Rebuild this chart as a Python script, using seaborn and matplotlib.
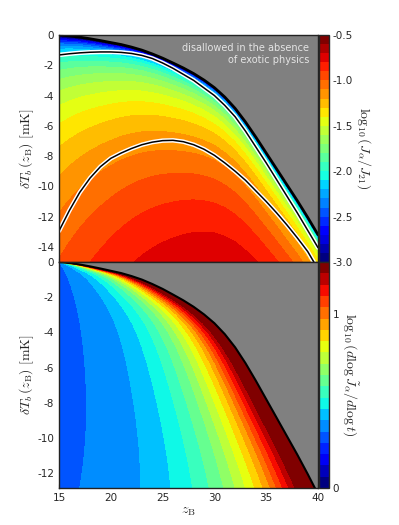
import numpy as np
import matplotlib
matplotlib.use('Agg')
import matplotlib.pyplot as plt
from matplotlib.colors import Normalize
import seaborn as sns

# Limite sem fisica exotica
z_lim = np.arange(15, 41)
dT_lim = [0.0, -0.06, -0.14, -0.25, -0.37, -0.5, -0.63, -0.8, -1.0, -1.25,
          -1.53, -1.85, -2.18, -2.55, -2.98, -3.48, -4.1, -4.85, -5.75, -6.75,
          -7.8, -8.85, -9.9, -10.95, -12.05, -13.2]

# Curvas branco/preto do painel de cima
z_up = np.arange(15, 41)
dT_up = [-1.32, -1.24, -1.18, -1.14, -1.12, -1.12, -1.15, -1.22, -1.35, -1.55,
         -1.85, -2.2, -2.6, -3.0, -3.5, -4.0, -4.65, -5.4, -6.35, -7.4,
         -8.45, -9.55, -10.65, -11.75, -12.9, -14.05]
z_low = [15, 16, 17, 18, 19, 20, 21, 22, 23, 24, 25, 26, 27, 28, 29, 30,
         31, 32, 33, 34, 35, 36, 37, 38, 39, 39.6]
dT_low = [-12.95, -11.6, -10.4, -9.45, -8.7, -8.15, -7.8, -7.5, -7.25, -7.08,
          -6.98, -6.96, -7.05, -7.25, -7.55, -7.95, -8.45, -9.0, -9.6, -10.3,
          -11.0, -11.75, -12.55, -13.4, -14.3, -15.0]

# Bordas das faixas de cor na base do painel de baixo (dT = -12.85)
c_borda = [0.325, 0.39, 0.455, 0.52, 0.585, 0.65, 0.715, 0.78, 0.845, 0.91,
           0.975, 1.04, 1.105, 1.17, 1.235, 1.3]
z_borda = [17.0, 22.9, 25.8, 27.9, 29.5, 30.9, 32.0, 33.0, 33.9, 34.7,
           35.4, 36.0, 36.6, 37.2, 37.8, 38.3]

# Niveis e ticks das barras de cor
lev_J = np.linspace(-3.0, -0.5, 26)
lev_dJ = np.linspace(0.0, 1.3, 21)
ticks_J = [-3.0, -2.5, -2.0, -1.5, -1.0, -0.5]
ticks_dJ = [0, 1]

# Parametros do modelo (ajustados a olho)
A0, nA = 148.0, 1.35
gama_topo, gama_base = 1.0, 1.45

sns.set_style('ticks')
plt.rcParams['font.family'] = ['DejaVu Sans']
plt.rcParams['mathtext.fontset'] = 'cm'
plt.rcParams['axes.unicode_minus'] = False
plt.rcParams['xtick.direction'] = 'in'
plt.rcParams['ytick.direction'] = 'in'

zz = np.linspace(15, 40, 600)
Tb = np.interp(zz, z_lim, dT_lim)

# Painel de cima: log10(J_a/J_21)
Z1, T1 = np.meshgrid(zz, np.linspace(-15, 0, 500))
d1 = Tb[None, :] - T1
A = A0 * ((1 + Z1) / 16.0) ** (-nA)
c1 = np.log10(np.clip(d1, 1e-9, None) / A)
c1 = np.ma.masked_where(d1 <= 0, np.clip(c1, -2.999, -0.501))

# Painel de baixo: log10(dlog J / dlog t)
y_base = -12.85
Z2, T2 = np.meshgrid(zz, np.linspace(y_base, 0, 500))
zb = np.interp(T2, dT_lim[::-1], z_lim[::-1])
zb0 = np.interp(y_base, dT_lim[::-1], z_lim[::-1])
L0 = zb0 - 15
gama = gama_topo + (gama_base - gama_topo) * (T2 / y_base)
L = L0 * (np.clip(zb - 15, 1e-3, None) / L0) ** gama
w = (zb - Z2) / L
w_b = (zb0 - np.array(z_borda)) / L0
wp = np.concatenate([[0.0], w_b[::-1], [1.0, 2.0]])
cp = np.concatenate([[1.36], np.array(c_borda)[::-1], [0.29, 0.262]])
c2 = np.interp(w, wp, cp)
c2 = np.ma.masked_where(Z2 > zb, np.clip(c2, 0.262, 1.299))

fig = plt.figure(figsize=(3.99, 5.25), dpi=100)
ax1 = fig.add_axes([59/399, 1-262/525, 259/399, 227/525])
ax2 = fig.add_axes([59/399, 1-488/525, 259/399, 226/525])
cax1 = fig.add_axes([318.5/399, 1-262/525, 10/399, 227/525])
cax2 = fig.add_axes([318.5/399, 1-488/525, 10/399, 226/525])

cinza = '#808080'
for ax in (ax1, ax2):
    ax.set_facecolor(cinza)

passo1 = lev_J[1] - lev_J[0]
norm1 = Normalize(lev_J[0] + passo1/2, lev_J[-1] - passo1/2)
cf1 = ax1.contourf(Z1, T1, c1, levels=lev_J, cmap='jet', norm=norm1)
sns.lineplot(x=z_lim, y=dT_lim, ax=ax1, color='k', lw=2.0)
sns.lineplot(x=z_up, y=dT_up, ax=ax1, color='w', lw=3.2)
sns.lineplot(x=z_up, y=dT_up, ax=ax1, color='k', lw=1.1)
sns.lineplot(x=z_low, y=dT_low, ax=ax1, color='w', lw=3.2)
sns.lineplot(x=z_low, y=dT_low, ax=ax1, color='k', lw=1.1)
ax1.text(0.965, 0.965, 'disallowed in the absence\nof exotic physics',
         transform=ax1.transAxes, ha='right', va='top', color='#e4e4e4',
         fontsize=7, multialignment='right')
ax1.set_xlim(15, 40)
ax1.set_ylim(-15, 0)
ax1.set_yticks(np.arange(-14, 1, 2))
ax1.set_xticks([15, 20, 25, 30, 35, 40])
ax1.set_xticklabels([])
ax1.set_ylabel(r'$\delta T_b\,(z_{\rm B})\ [{\rm mK}]$', fontsize=10, labelpad=1)

passo2 = lev_dJ[1] - lev_dJ[0]
norm2 = Normalize(lev_dJ[0] + passo2/2, lev_dJ[-1] - passo2/2)
cf2 = ax2.contourf(Z2, T2, c2, levels=lev_dJ, cmap='jet', norm=norm2)
sns.lineplot(x=z_lim, y=dT_lim, ax=ax2, color='k', lw=1.5)
ax2.set_xlim(15, 40)
ax2.set_ylim(y_base, 0)
ax2.set_yticks(np.arange(-12, 1, 2))
ax2.set_xticks([15, 20, 25, 30, 35, 40])
ax2.set_ylabel(r'$\delta T_b\,(z_{\rm B})\ [{\rm mK}]$', fontsize=10, labelpad=1)
ax2.set_xlabel(r'$z_{\rm B}$', fontsize=10, labelpad=1)

for ax in (ax1, ax2):
    ax.tick_params(labelsize=7.5, length=3, color='k')
    for s in ax.spines.values():
        s.set_linewidth(1.0)
        s.set_color('#222222')

cb1 = fig.colorbar(cf1, cax=cax1, ticks=ticks_J, format='%.1f')
cb1.set_label(r'$\log_{10}(J_\alpha/J_{21})$', rotation=270, labelpad=14, fontsize=10)
cb2 = fig.colorbar(cf2, cax=cax2, ticks=ticks_dJ, format='%d')
cb2.set_label(r'$\log_{10}(d\log\tilde{J}_\alpha/d\log t)$', rotation=270, labelpad=14, fontsize=10)
for cb in (cb1, cb2):
    cb.ax.tick_params(labelsize=7.5, length=0, pad=3)
    cb.outline.set_linewidth(1.0)

plt.savefig('out.png', dpi=100)
